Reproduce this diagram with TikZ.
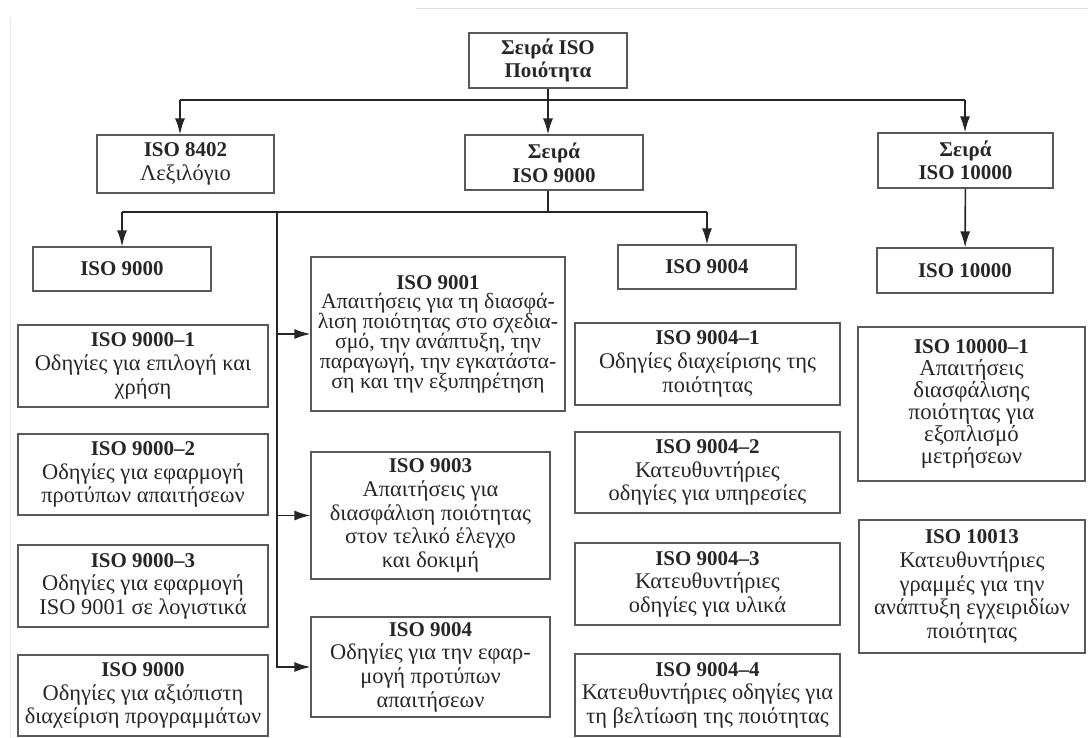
\documentclass[tikz,border=0pt]{standalone}
\usepackage{fontspec}
\setmainfont{Liberation Serif}
\usepackage{tikz}
\usetikzlibrary{arrows.meta}
\usepackage{xcolor}
\newcommand{\tightlines}{\lineskiplimit=-20pt\relax}
\newcommand{\ttl}[1]{{\fontsize{10.5}{11.8}\selectfont\textbf{#1}}}

\begin{document}
\begin{tikzpicture}[x=0.5pt,y=-0.5pt]

\tikzset{box/.style = {shape=rectangle,draw=black!65,line width=0.6pt,inner sep=0pt,align=center,text=black!85,font=\fontsize{11.2}{11.8}\selectfont\tightlines}}
\tikzset{tight/.style = {font=\fontsize{10.9}{9.9}\selectfont\tightlines}}
\tikzset{edge/.style = {-,draw=black!85,line width=0.8pt}}
\tikzset{arrow/.style = {edge,-{Latex[length=8pt,width=5pt]}}}
\useasboundingbox (0,0) rectangle (1088,738);

% faint scan edges
\draw[black!12] (416,8) -- (1088,8);
\draw[black!10] (10,18) -- (10,738);

\node[box,minimum width=79pt,minimum height=27.5pt] (top) at (548,60.5) {\ttl{Σειρά ISO}\\\ttl{Ποιότητα}};
\node[box,minimum width=88.5pt,minimum height=29pt] (n8402) at (185.5,164) {\ttl{ISO 8402}\\Λεξιλόγιο};
\node[box,minimum width=89pt,minimum height=27.5pt] (s9000) at (554,162.5) {\ttl{Σειρά}\\\ttl{ISO 9000}};
\node[box,minimum width=87.5pt,minimum height=27.5pt] (s10000) at (965.5,160.5) {\ttl{Σειρά}\\\ttl{ISO 10000}};

\node[box,minimum width=89pt,minimum height=22pt] (i9000) at (122,269) {\ttl{ISO 9000}};
\node[box,minimum width=125pt,minimum height=41pt] (i9000a) at (143,366) {\ttl{ISO 9000–1}\\Οδηγίες για επιλογή και\\χρήση};
\node[box,minimum width=125pt,minimum height=40.5pt] (i9000b) at (143,474.5) {\ttl{ISO 9000–2}\\Οδηγίες για εφαρμογή\\προτύπων απαιτήσεων};
\node[box,minimum width=125pt,minimum height=41pt] (i9000c) at (143,586) {\ttl{ISO 9000–3}\\Οδηγίες για εφαρμογή\\ISO 9001 σε λογιστικά};
\node[box,minimum width=125pt,minimum height=40.5pt] (i9000d) at (143,695.5) {\ttl{ISO 9000}\\Οδηγίες για αξιόπιστη\\διαχείριση προγραμμάτων};

\node[box,tight,minimum width=127pt,minimum height=77pt] (i9001) at (438,334) {\ttl{ISO 9001}\\Απαιτήσεις για τη διασφά-\\λιση ποιότητας στο σχεδια-\\σμό, την ανάπτυξη, την\\παραγωγή, την εγκατάστα-\\ση και την εξυπηρέτηση};
\node[box,minimum width=119.5pt,minimum height=63.5pt] (i9003) at (430.5,515.5) {\ttl{ISO 9003}\\Απαιτήσεις για\\διασφάλιση ποιότητας\\στον τελικό έλεγχο\\και δοκιμή};
\node[box,minimum width=119.5pt,minimum height=50pt] (i9004m) at (430.5,667) {\ttl{ISO 9004}\\Οδηγίες για την εφαρ-\\μογή προτύπων\\απαιτήσεων};

\node[box,minimum width=89pt,minimum height=22pt] (i9004) at (707,267) {\ttl{ISO 9004}};
\node[box,minimum width=132.5pt,minimum height=41pt] (i9004a) at (707.5,364) {\ttl{ISO 9004–1}\\Οδηγίες διαχείρισης της\\ποιότητας};
\node[box,minimum width=132.5pt,minimum height=40.5pt] (i9004b) at (707.5,472.5) {\ttl{ISO 9004–2}\\Κατευθυντήριες\\οδηγίες για υπηρεσίες};
\node[box,minimum width=132.5pt,minimum height=41pt] (i9004c) at (707.5,584) {\ttl{ISO 9004–3}\\Κατευθυντήριες\\οδηγίες για υλικά};
\node[box,minimum width=132.5pt,minimum height=41pt] (i9004d) at (707.5,695) {\ttl{ISO 9004–4}\\Κατευθυντήριες οδηγίες για\\τη βελτίωση της ποιότητας};

\node[box,minimum width=88pt,minimum height=22.5pt] (i10000) at (965,270.5) {\ttl{ISO 10000}};
\node[box,font=\fontsize{11.4}{11}\selectfont\tightlines,minimum width=113.5pt,minimum height=77pt] (i10000a) at (971.5,404) {\ttl{ISO 10000–1}\\Απαιτήσεις\\διασφάλισης\\ποιότητας για\\εξοπλισμό\\μετρήσεων};
\node[box,minimum width=113pt,minimum height=66.5pt] (i10013) at (972,586.5) {\ttl{ISO 10013}\\Κατευθυντήριες\\γραμμές για την\\ανάπτυξη εγχειριδίων\\ποιότητας};

%edges
\coordinate (busL) at (180,100);
\coordinate (busR) at (965,100);
\coordinate (drop) at (548,212);
\coordinate (bus2L) at (122,212);
\coordinate (bus2R) at (707,212);
\coordinate (spine) at (277,212);

\draw[edge] (busL) -- (busR);
\draw[arrow] (busL) -- (busL |- n8402.north);
\draw[arrow] (busR) -- (busR |- s10000.north);
\draw[arrow] (top) -- (top |- s9000.north);

\draw[edge] (s9000.south -| drop) -- (drop);
\draw[edge] (bus2L) -- (bus2R);
\draw[arrow] (bus2L) -- (i9000);
\draw[arrow] (bus2R) -- (i9004);
\draw[arrow] (spine |- i9001) -- (i9001);
\draw[arrow] (spine |- i9003) -- (i9003);
\draw[arrow] (spine) |- (i9004m);

\draw[arrow] (s10000) -- (i10000);
\end{tikzpicture}
\end{document}
